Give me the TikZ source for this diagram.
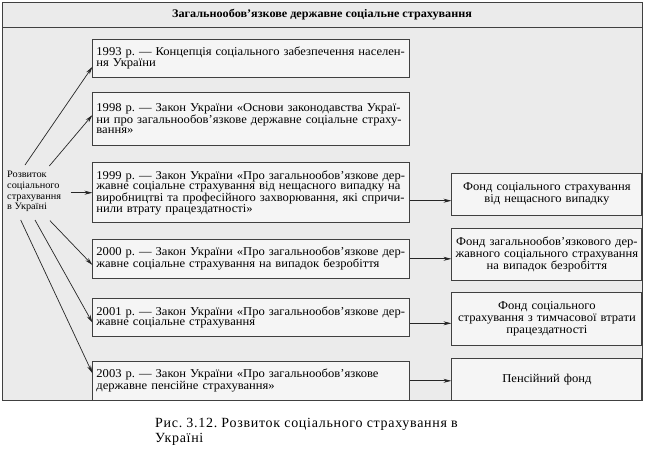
\documentclass[tikz,border=0pt]{standalone}
\usepackage{fontspec}
\setmainfont{Liberation Serif}[FakeStretch=1.05]
\newfontfamily\capfont{Liberation Serif}[LetterSpace=5]
\usetikzlibrary{arrows.meta}
\newcommand\jline[1]{\makebox[310pt][s]{#1}}
\frenchspacing
\begin{document}
\begin{tikzpicture}[x=1pt,y=-1pt,
  frame/.style={draw=black!75, line width=0.8pt},
  lbox/.style={draw=black!75, line width=0.9pt, fill=black!4, inner xsep=3.5pt, inner ysep=0pt,
    text width=310pt, align=left, font=\fontsize{12}{10.6}\selectfont},
  rbox/.style={draw=black!75, line width=0.9pt, fill=black!4, inner xsep=3.5pt, inner ysep=0pt,
    text width=183pt, align=center, font=\fontsize{12}{12}\selectfont},
  arr/.style={-{Stealth[length=8pt,width=4pt]}, line width=0.7pt, draw=black!85}]
\useasboundingbox (0,0) rectangle (645,451);
\fill[white] (0,0) rectangle (645,451);
\draw[frame, fill=black!8] (2,2) rectangle (642,400);
\draw[frame] (2,27) -- (642,27);
\node[font=\bfseries\fontsize{11.6}{12}\selectfont] (title) at (322,14.5)
  {Загальнообов’язкове державне соціальне страхування};

\node[lbox, minimum width=317pt, minimum height=38pt] (b1993) at (251.4,58)
  {\jline{1993 р. — Концепція соціального забезпечення населен-}\\ня України};
\node[lbox, minimum width=317pt, minimum height=53pt] (b1998) at (251.4,118.5)
  {\jline{1998 р. — Закон України «Основи законодавства Украї-}\\\jline{ни про загальнообов’язкове державне соціальне страху-}\\вання»};
\node[lbox, minimum width=317pt, minimum height=60pt] (b1999) at (251.4,192.7)
  {\jline{1999 р. — Закон України «Про загальнообов’язкове дер-}\\\jline{жавне соціальне страхування від нещасного випадку на}\\\jline{виробництві та професійного захворювання, які спричи-}\\нили втрату працездатності»};
\node[lbox, minimum width=317pt, minimum height=39pt] (b2000) at (251.4,258.8)
  {\jline{2000 р. — Закон України «Про загальнообов’язкове дер-}\\жавне соціальне страхування на випадок безробіття};
\node[lbox, minimum width=317pt, minimum height=38.4pt] (b2001) at (251.4,317.5)
  {\jline{2001 р. — Закон України «Про загальнообов’язкове дер-}\\жавне соціальне страхування};
\node[lbox, minimum width=317pt, minimum height=38.3pt] (b2003) at (251.4,380.8)
  {2003 р. — Закон України «Про загальнообов’язкове\\державне пенсійне страхування»};

\node[rbox, minimum width=190pt, minimum height=41.7pt] (f1) at (546.9,194.2)
  {Фонд соціального страхування\\від нещасного випадку};
\node[rbox, minimum width=190pt, minimum height=51.7pt] (f2) at (546.9,254.2)
  {Фонд загальнообов’язкового дер-\\жавного соціального страхування\\на випадок безробіття};
\node[rbox, minimum width=190pt, minimum height=52.3pt] (f3) at (546.9,318.9)
  {Фонд соціального\\страхування з тимчасової втрати\\працездатності};
\node[rbox, minimum width=190pt, minimum height=41.7pt] (f4) at (546.9,379.2)
  {Пенсійний фонд};

\node[anchor=west, align=left, inner sep=0pt, font=\fontsize{9.8}{10.7}\selectfont] (lab) at (7,191.5)
  {Розвиток\\соціального\\страхування\\в Україні};

\coordinate (s1) at (25,165);
\coordinate (s2) at (49.3,166);
\coordinate (s3) at (70.7,192.7);
\coordinate (s4) at (50,220.7);
\coordinate (s5) at (35,220);
\coordinate (s6) at (20.7,220);
\draw[arr] (s1) -- ([yshift=-8.7pt]b1993.west);
\draw[arr] (s2) -- ([yshift=3.5pt]b1998.west);
\draw[arr] (s3) -- (s3 -| b1999.west);
\draw[arr] (s4) -- ([yshift=-6.2pt]b2000.west);
\draw[arr] (s5) -- ([yshift=-5.2pt]b2001.west);
\draw[arr] (s6) -- ([yshift=7.5pt]b2003.west);

\coordinate (r1) at ([yshift=-8pt]b1999.east);
\coordinate (r2) at (b2000.east);
\coordinate (r3) at ([yshift=-5.8pt]b2001.east);
\coordinate (r4) at (b2003.east);
\draw[arr] (r1) -- (r1 -| f1.west);
\draw[arr] (r2) -- (r2 -| f2.west);
\draw[arr] (r3) -- (r3 -| f3.west);
\draw[arr] (r4) -- (r4 -| f4.west);

\node[anchor=west, align=left, inner sep=0pt, font=\capfont\fontsize{14}{14.5}\selectfont] (cap) at (155,432)
  {Рис. 3.12. Розвиток соціального страхування в\\Україні};
\end{tikzpicture}
\end{document}
